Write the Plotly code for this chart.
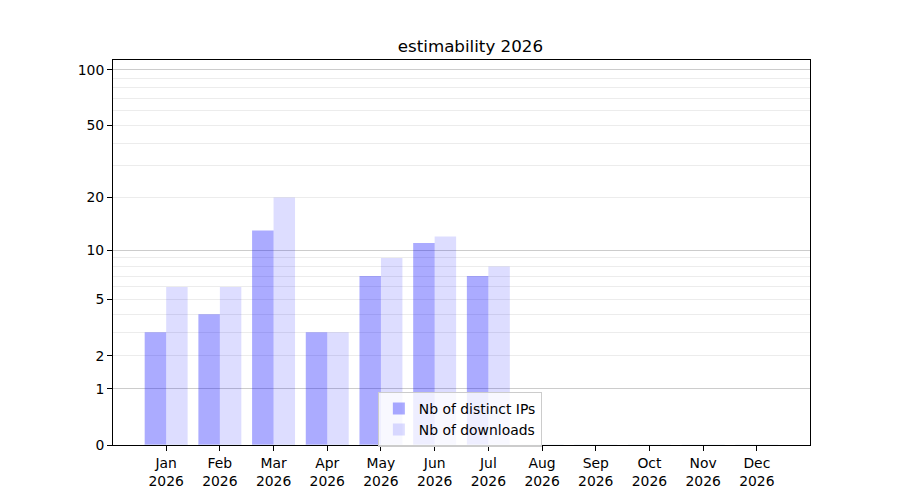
import numpy as np
import plotly.graph_objects as go

months = ["Jan", "Feb", "Mar", "Apr", "May", "Jun", "Jul", "Aug", "Sep", "Oct", "Nov", "Dec"]
year = "2026"
distinct_ips = [3, 4, 13, 3, 7, 11, 7, 0, 0, 0, 0, 0]
downloads = [6, 6, 20, 3, 9, 12, 8, 0, 0, 0, 0, 0]
y_ticks = [0, 1, 2, 5, 10, 20, 50, 100]
major_grid = [1, 10, 100]
minor_grid = [2, 3, 4, 5, 6, 7, 8, 9, 20, 30, 40, 50, 60, 70, 80, 90]


def f(v):
    # y axis scale is log10(1 + v)
    return np.log10(1 + np.asarray(v, dtype=float))


labels = [f"{m}<br>{year}" for m in months]
font = dict(family="DejaVu Sans", size=13.9, color="black")

fig = go.Figure()
fig.add_trace(go.Bar(x=labels, y=f(distinct_ips), name="Nb of distinct IPs",
                     marker=dict(color="rgba(0,0,255,0.33)", line=dict(width=0))))
fig.add_trace(go.Bar(x=labels, y=f(downloads), name="Nb of downloads",
                     marker=dict(color="rgba(0,0,255,0.135)", line=dict(width=0))))

# invisible trace only to carry the darker major grid
fig.add_trace(go.Bar(x=labels, y=[0] * len(labels), yaxis="y2", showlegend=False,
                     hoverinfo="skip", marker=dict(color="rgba(0,0,0,0)")))

# page has an 8px body margin, so everything is shifted up/left by 8
yr = [0, 2.0577]
fig.update_layout(
    width=900, height=500,
    margin=dict(l=105, r=98, t=52, b=63),
    paper_bgcolor="white", plot_bgcolor="white",
    font=font,
    barmode="group", bargap=0.2, bargroupgap=0,
    title=dict(text="estimability 2026", x=0.5128, xanchor="center", xref="paper",
               y=1 - 38 / 500, yref="container", yanchor="middle",
               font=dict(family="DejaVu Sans", size=16.7, color="black")),
    xaxis=dict(range=[-0.99, 11.99], showgrid=False, showline=True, linecolor="black",
               linewidth=1, mirror=True, ticks="outside", ticklen=5, tickcolor="black",
               tickangle=0),
    yaxis=dict(range=yr, tickmode="array", tickvals=f(y_ticks),
               ticktext=[str(t) for t in y_ticks], showgrid=False, zeroline=False,
               showline=True, linecolor="black", linewidth=1, mirror=True,
               ticks="outside", ticklen=5, tickcolor="black",
               minor=dict(tickmode="array", tickvals=f(minor_grid), showgrid=True,
                          gridcolor="#ececec", gridwidth=1, ticks="")),
    yaxis2=dict(range=yr, overlaying="y", tickmode="array", tickvals=f(major_grid),
                showticklabels=False, showgrid=True, gridcolor="#cccccc", gridwidth=1,
                zeroline=False, ticks=""),
    legend=dict(x=0.380, y=0.138, xanchor="left", yanchor="top",
                bgcolor="rgba(255,255,255,0.8)", bordercolor="#cccccc", borderwidth=1,
                font=font, tracegroupgap=0, traceorder="normal"),
    showlegend=True,
)

fig.write_html("out.html")
